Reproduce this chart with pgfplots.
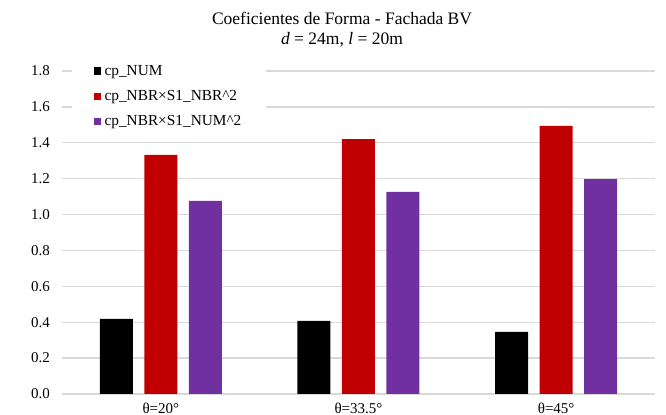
\documentclass[border=0pt]{standalone}
\usepackage{fontspec}
\setmainfont{Liberation Serif}
\usepackage{pgfplots}
\pgfplotsset{compat=1.18}
\definecolor{cpred}{HTML}{C00000}
\definecolor{cppurple}{HTML}{7030A0}
\definecolor{gridgray}{HTML}{D9D9D9}
\begin{document}
\begin{tikzpicture}
\begin{axis}[
  at={(0,0)}, anchor=south west,
  scale only axis,
  width=355.8pt, height=193.8pt,
  ybar=6.9pt, bar width=19.8pt,
  xmin=-0.5, xmax=2.5,
  ymin=0, ymax=1.8,
  ytick={0,0.2,...,1.8},
  xtick={0,1,2},
  xticklabels={θ=20°, θ=33.5°, θ=45°},
  axis line style={draw=none},
  major tick length=0pt,
  ymajorgrids,
  grid style={gridgray, line width=0.8pt},
  /pgf/number format/assume math mode=true,
  yticklabel style={/pgf/number format/fixed, /pgf/number format/fixed zerofill, /pgf/number format/precision=1, font=\fontsize{9}{10}\selectfont},
  xticklabel style={font=\fontsize{9}{10}\selectfont},
  tick label style={/pgf/number format/assume math mode=true},
  yticklabel shift=3.8pt,
  xticklabel shift=2pt,
  legend style={font=\fontsize{9.2}{11}\selectfont, draw=none, fill=white, at={(0.017,1.04)}, anchor=north west, row sep=3.6pt, inner ysep=2pt, inner xsep=12.8pt, /tikz/every odd column/.style={column sep=0pt}},
  legend cell align=left,
  legend image code/.code={\fill[#1] (0pt,-2.1pt) rectangle (4.5pt,2.4pt);},
  every axis plot/.append style={draw=none},
]
\addplot[fill=black] coordinates {(0,0.418) (1,0.407) (2,0.346)};
\addplot[fill=cpred] coordinates {(0,1.332) (1,1.421) (2,1.494)};
\addplot[fill=cppurple] coordinates {(0,1.076) (1,1.126) (2,1.198)};
\legend{cp\_NUM, cp\_NBR×S1\_NBR\textasciicircum 2, cp\_NBR×S1\_NUM\textasciicircum 2}
\end{axis}
\node[font=\fontsize{10.5}{12}\selectfont] at (168pt,225.6pt) {Coeficientes de Forma - Fachada BV};
\node[font=\fontsize{10.5}{12}\selectfont] at (168pt,212.4pt) {\textit{d} = 24m, \textit{l} = 20m};
\pgfresetboundingbox
\path[use as bounding box] (-37.2pt,-12.6pt) rectangle (362.4pt,236.4pt);
\end{tikzpicture}
\end{document}
